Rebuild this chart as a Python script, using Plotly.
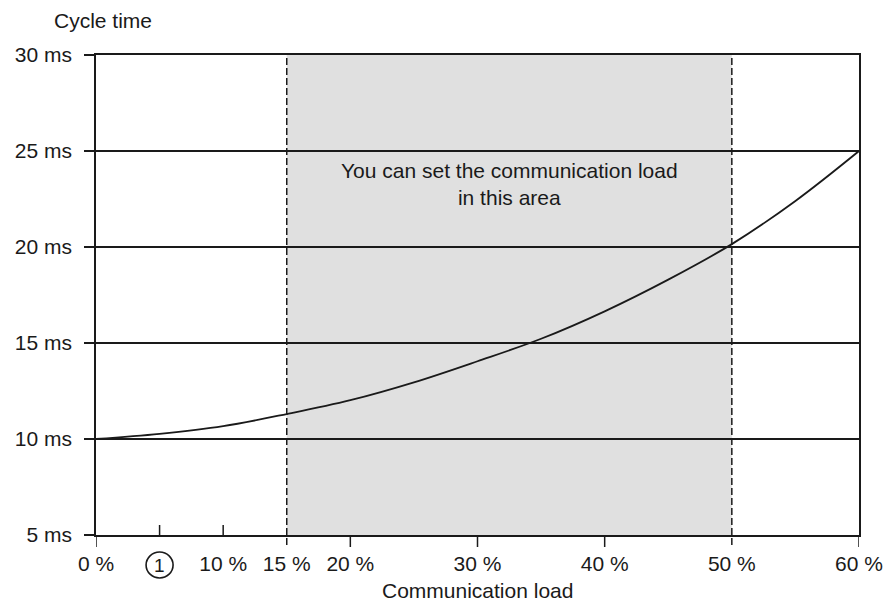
import plotly.graph_objects as go

# Data
load_pct = [0, 5, 10, 15, 20, 25, 30, 35, 40, 45, 50, 55, 60]
cycle_ms = [10.0, 10.27, 10.67, 11.3, 12.02, 12.95, 14.05, 15.22, 16.65, 18.3, 20.15, 22.4, 25.0]

x_label_vals = [0, 10, 15, 20, 30, 40, 50, 60]
x_label_text = ["0 %", "10 %", "15 %", "20 %", "30 %", "40 %", "50 %", "60 %"]
x_ticks_out = [0, 20, 30, 40, 60]
x_ticks_in = [5, 10]
marker_one_x = 5

y_vals = [5, 10, 15, 20, 25, 30]
y_text = ["5 ms", "10 ms", "15 ms", "20 ms", "25 ms", "30 ms"]

area_start, area_end = 15, 50
area_text_y = 23.3

FONT = "Liberation Sans, Arial, sans-serif"
INK = "#1a1a1a"
PLOT_H = 480.0
tick_frac = 10 / PLOT_H
FS = 21

fig = go.Figure()
fig.add_trace(go.Scatter(x=load_pct, y=cycle_ms, mode="lines",
                         line=dict(color=INK, width=1.8, shape="spline", smoothing=1.0),
                         hoverinfo="skip", showlegend=False))

shapes = [
    dict(type="rect", xref="x", yref="paper", x0=area_start, x1=area_end, y0=0, y1=1,
         fillcolor="#e0e0e0", line=dict(width=0), layer="below"),
]
for xv in (area_start, area_end):
    shapes.append(dict(type="line", xref="x", yref="paper", x0=xv, x1=xv,
                       y0=-tick_frac, y1=1,
                       line=dict(color=INK, width=1.5, dash="7px,3px")))
for xv in x_ticks_out:
    shapes.append(dict(type="line", xref="x", yref="paper", x0=xv, x1=xv,
                       y0=0, y1=-tick_frac * 1.2, line=dict(color=INK, width=1.5)))
for xv in x_ticks_in:
    shapes.append(dict(type="line", xref="x", yref="paper", x0=xv, x1=xv,
                       y0=0, y1=tick_frac, line=dict(color=INK, width=1.5)))
shapes.append(dict(type="circle", xref="x", yref="paper", xsizemode="pixel", ysizemode="pixel",
                   xanchor=marker_one_x, yanchor=0, x0=-13.5, x1=13.5, y0=-17, y1=-43,
                   line=dict(color=INK, width=1.6)))

annotations = [
    dict(text="1", x=marker_one_x, xref="x", y=0, yref="paper", yanchor="middle", yshift=-30,
         showarrow=False, font=dict(family=FONT, size=19, color=INK)),
    dict(text="You can set the communication load<br>in this area",
         x=(area_start + area_end) / 2, xref="x", y=area_text_y, yref="y", yanchor="middle",
         showarrow=False, font=dict(family=FONT, size=FS, color=INK), align="center"),
    dict(text="Cycle time", x=0, xref="paper", xanchor="left", xshift=-44,
         y=1, yref="paper", yanchor="middle", yshift=35,
         showarrow=False, font=dict(family=FONT, size=FS, color=INK)),
    dict(text="Communication load", x=30, xref="x", y=0, yref="paper", yanchor="middle", yshift=-55,
         showarrow=False, font=dict(family=FONT, size=FS, color=INK)),
]

fig.update_layout(
    width=895, height=603,
    margin=dict(l=96, r=26, t=55, b=68),
    paper_bgcolor="white", plot_bgcolor="white",
    font=dict(family=FONT, size=FS, color=INK),
    shapes=shapes, annotations=annotations, showlegend=False,
    xaxis=dict(range=[0, 60], tickvals=x_label_vals, ticktext=x_label_text,
               ticks="", showgrid=False, zeroline=False,
               showline=True, mirror=True, linecolor=INK, linewidth=1.5,
               ticklabelstandoff=9, tickfont=dict(size=FS)),
    yaxis=dict(range=[5, 30], tickvals=y_vals, ticktext=y_text,
               ticks="outside", ticklen=10, tickwidth=1.5, tickcolor=INK,
               showgrid=True, gridcolor=INK, gridwidth=1.5, zeroline=False,
               showline=True, mirror=True, linecolor=INK, linewidth=1.5,
               ticklabelstandoff=8, tickfont=dict(size=FS)),
)

fig.write_html("out.html", config={"displayModeBar": False},
               post_script="document.body.style.margin='0';document.body.style.overflow='hidden';")
